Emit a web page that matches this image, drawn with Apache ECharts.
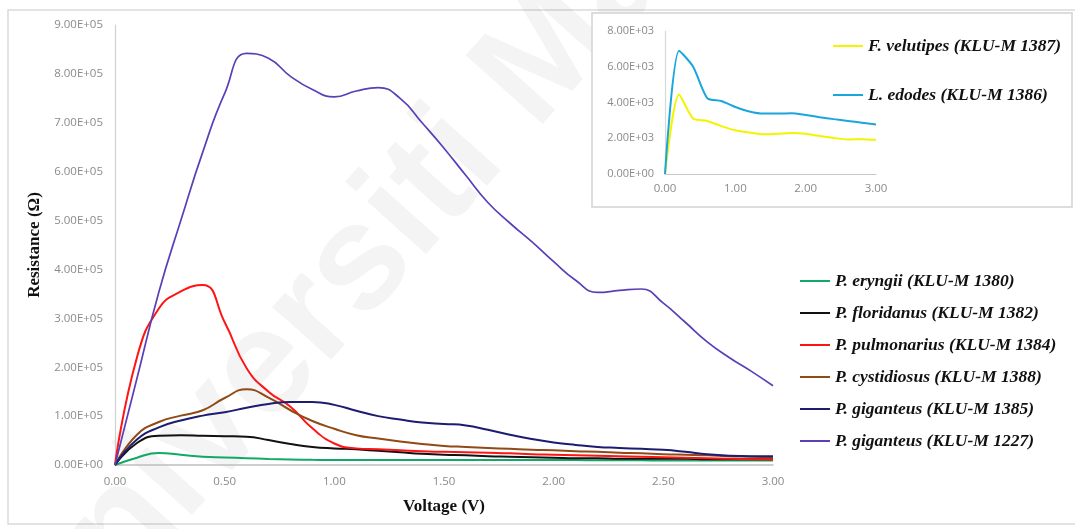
<!DOCTYPE html>
<html>
<head>
<meta charset="utf-8">
<script src="https://cdn.jsdelivr.net/npm/echarts@6/dist/echarts.min.js"></script>
<style>
  html, body { margin: 0; padding: 0; background: #ffffff; }
  #chart { width: 1075px; height: 529px; }
</style>
</head>
<body>
<div id="chart"></div>
<script>
// Applied voltage (V) for the main plot
const volts = [0.0, 0.1, 0.2, 0.3, 0.4, 0.5, 0.6, 0.7, 0.8, 0.9, 1.0,
               1.1, 1.2, 1.3, 1.4, 1.5, 1.6, 1.7, 1.8, 1.9, 2.0,
               2.1, 2.2, 2.3, 2.4, 2.5, 2.6, 2.7, 2.8, 2.9, 3.0];

// Resistance (ohm) per strain
const eryngii1380 = [0, 15000, 24500, 21000, 17000, 15500, 14000, 12500, 11500, 10500, 10000,
                     10000, 10000, 10000, 10000, 10000, 10000, 10000, 10000, 10000, 10000,
                     10000, 9500, 9500, 9500, 9000, 9000, 9000, 9000, 9000, 9000];
const floridanus1382 = [0, 45000, 60000, 61000, 60000, 59000, 58000, 51000, 43000, 37000, 34000,
                        32000, 29000, 26000, 23000, 21000, 20000, 18000, 17000, 16000, 15000,
                        14000, 14000, 13000, 13000, 13000, 13000, 12000, 12000, 12000, 12000];
const pulmonarius1384 = [0, 220000, 320000, 355000, 368000, 292000, 198000, 150000, 119000, 75000, 44000,
                         34000, 32000, 30000, 28000, 27000, 26000, 25000, 24000, 22000, 21000,
                         20000, 19000, 18000, 17000, 16000, 15000, 14000, 13000, 12000, 11000];
const cystidiosus1388 = [0, 62000, 88000, 101000, 112000, 137000, 155000, 138000, 112000, 90000, 74000,
                         61000, 54000, 48000, 43000, 39000, 37000, 35000, 33000, 31000, 30000,
                         28000, 27000, 25000, 24000, 22000, 21000, 20000, 18000, 17000, 16000];
const giganteus1385 = [0, 52000, 77000, 91000, 101000, 108000, 117000, 125000, 129000, 129000, 123000,
                       111000, 100000, 93000, 87000, 84000, 81000, 72000, 62000, 53000, 46000,
                       41000, 37000, 35000, 33000, 31000, 27000, 22000, 19000, 18000, 18000];
const giganteus1227 = [0, 177000, 354000, 500000, 640000, 760000, 842000, 832000, 795000, 768000, 753000,
                       765000, 772000, 750000, 700000, 648000, 592000, 537000, 495000, 457000, 416000,
                       378000, 353000, 357000, 360000, 331000, 292000, 252000, 220000, 192000, 162000];

// Inset: low-resistance strains
const insetVolts = [0.0, 0.2, 0.4, 0.6, 0.8, 1.0, 1.2, 1.4, 1.6, 1.8, 2.0, 2.2, 2.4, 2.6, 2.8, 3.0];
const velutipes1387 = [0, 4450, 3100, 2970, 2680, 2450, 2320, 2220, 2250, 2300, 2250, 2120, 2020, 1930, 1950, 1910];
const edodes1386 = [0, 6900, 6000, 4250, 4080, 3750, 3500, 3380, 3380, 3400, 3300, 3180, 3070, 2970, 2870, 2770];

const mainNames = ['P. eryngii (KLU-M 1380)', 'P. floridanus (KLU-M 1382)', 'P. pulmonarius (KLU-M 1384)',
                   'P. cystidiosus (KLU-M 1388)', 'P. giganteus (KLU-M 1385)', 'P. giganteus (KLU-M 1227)'];
const mainValues = [eryngii1380, floridanus1382, pulmonarius1384, cystidiosus1388, giganteus1385, giganteus1227];
const mainColors = ['#12a865', '#111111', '#ff1414', '#8f4a16', '#1c1c72', '#5a3fb8'];

const insetNames = ['F. velutipes (KLU-M 1387)', 'L. edodes (KLU-M 1386)'];
const insetValues = [velutipes1387, edodes1386];
const insetColors = ['#f4f400', '#1aa6dc'];

// Excel-style scientific tick labels, e.g. 9.00E+05
function sci(v) {
  if (v === 0) return '0.00E+00';
  const e = Math.floor(Math.log10(Math.abs(v)) + 1e-9);
  const m = v / Math.pow(10, e);
  return m.toFixed(2) + 'E+' + String(e).padStart(2, '0');
}

const pairs = (xs, ys) => xs.map((x, i) => [x, ys[i]]);

const legendText = {
  fontFamily: 'Liberation Serif', fontStyle: 'italic', fontWeight: 'bold',
  fontSize: 17.5, lineHeight: 18, color: '#111111'
};
const tickText = { fontFamily: 'Open Sans', fontSize: 11.5, color: '#8a8a8a' };
const titleText = { fontFamily: 'Liberation Serif', fontWeight: 'bold', fontSize: 17, color: '#111111' };

const series = [];
mainNames.forEach((n, i) => series.push({
  name: n, type: 'line', xAxisIndex: 0, yAxisIndex: 0,
  data: pairs(volts, mainValues[i]), smooth: 0.5, symbol: 'none',
  color: mainColors[i], lineStyle: { width: i === 5 ? 1.7 : 2 }, z: 3
}));
insetNames.forEach((n, i) => series.push({
  name: n, type: 'line', xAxisIndex: 1, yAxisIndex: 1,
  data: pairs(insetVolts, insetValues[i]), smooth: 0.25, symbol: 'none',
  color: insetColors[i], lineStyle: { width: 2 }, z: 3
}));

const chart = echarts.init(document.getElementById('chart'), null, { renderer: 'canvas' });
chart.setOption({
  animation: false,
  backgroundColor: '#ffffff',
  graphic: [
    { type: 'text', z: -10, x: -35, y: 594, rotation: 0.84,
      style: { text: 'Universiti Malaya', font: 'bold 150px "Liberation Sans"', fill: 'rgba(0,0,0,0.045)' } },
    { type: 'rect', z: -20, shape: { x: 8, y: 10, width: 1080, height: 514 },
      style: { fill: 'none', stroke: '#dadada', lineWidth: 1.5 } },
    { type: 'rect', z: -5, shape: { x: 592, y: 13, width: 480, height: 194 },
      style: { fill: '#ffffff', stroke: '#d2d2d2', lineWidth: 1.5 } }
  ],
  grid: [
    { left: 115, right: 302, top: 25, bottom: 64 },
    { left: 665, right: 199, top: 31, bottom: 355 }
  ],
  xAxis: [
    { type: 'value', gridIndex: 0, min: 0, max: 3, interval: 0.5,
      axisLine: { lineStyle: { color: '#bfbfbf', width: 1.5 } }, axisTick: { show: false },
      splitLine: { show: false },
      axisLabel: Object.assign({ margin: 11, formatter: v => v.toFixed(2) }, tickText),
      name: 'Voltage (V)', nameLocation: 'middle', nameGap: 33, nameTextStyle: titleText },
    { type: 'value', gridIndex: 1, min: 0, max: 3, interval: 1,
      axisLine: { lineStyle: { color: '#c8c8c8', width: 1.2 } }, axisTick: { show: false },
      splitLine: { show: false },
      axisLabel: Object.assign({ margin: 9, formatter: v => v.toFixed(2) }, tickText) }
  ],
  yAxis: [
    { type: 'value', gridIndex: 0, min: 0, max: 900000, interval: 100000,
      axisLine: { show: true, lineStyle: { color: '#d0d0d0', width: 1.2 } }, axisTick: { show: false },
      splitLine: { show: false },
      axisLabel: Object.assign({ margin: 12, formatter: sci }, tickText),
      name: 'Resistance (Ω)', nameLocation: 'middle', nameGap: 65, nameRotate: 90, nameTextStyle: titleText },
    { type: 'value', gridIndex: 1, min: 0, max: 8000, interval: 2000,
      axisLine: { show: true, lineStyle: { color: '#d8d8d8', width: 1.2 } }, axisTick: { show: false },
      splitLine: { show: false },
      axisLabel: Object.assign({ margin: 11, formatter: sci }, tickText, { fontSize: 11 }) }
  ],
  legend: [
    { data: mainNames, orient: 'vertical', left: 800, top: 272, padding: 0, itemGap: 14,
      icon: 'rect', itemWidth: 30, itemHeight: 2, textStyle: legendText, selectedMode: false },
    { data: insetNames, orient: 'vertical', left: 833, top: 37, padding: 0, itemGap: 31,
      icon: 'rect', itemWidth: 30, itemHeight: 2, textStyle: legendText, selectedMode: false }
  ],
  series: series
});
</script>
</body>
</html>
